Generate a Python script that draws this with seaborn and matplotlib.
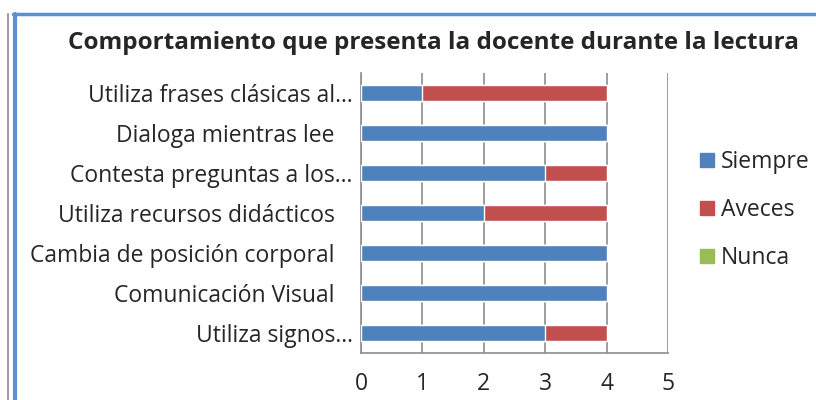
import matplotlib
matplotlib.use("Agg")
import matplotlib.pyplot as plt
import matplotlib.patches as mpatches
from matplotlib.lines import Line2D
import numpy as np
import pandas as pd
import seaborn as sns

# labels carry a trailing space in the source chart
categories = [
    "Utiliza frases clásicas al…",
    "Dialoga mientras lee   ",
    "Contesta preguntas a los…",
    "Utiliza recursos didácticos   ",
    "Cambia de posición corporal   ",
    "Comunicación Visual   ",
    "Utiliza signos…",
]
siempre = [1, 4, 3, 2, 4, 4, 3]
aveces = [3, 0, 1, 2, 0, 0, 1]
nunca = [0, 0, 0, 0, 0, 0, 0]

series_names = ["Siempre", "Aveces", "Nunca"]
colors = ["#4F81BD", "#C0504D", "#9BBB59"]

sns.set_style("white")
plt.rcParams["font.family"] = ["Open Sans", "DejaVu Sans"]

df = pd.DataFrame({"cat": categories, "Siempre": siempre,
                   "Aveces": aveces, "Nunca": nunca})
# cumulative totals for stacking
df["t1"] = df["Siempre"]
df["t2"] = df["t1"] + df["Aveces"]
df["t3"] = df["t2"] + df["Nunca"]

fig = plt.figure(figsize=(8.16, 4.0), dpi=100)
ax = fig.add_axes([0.4424, 0.1175, 0.3762, 0.70])

for col, c in zip(["t3", "t2", "t1"], [colors[2], colors[1], colors[0]]):
    sns.barplot(data=df, x=col, y="cat", color=c, width=0.38,
                saturation=1, ax=ax, zorder=3)

ax.set_xlim(0, 5)
ax.set_xticks(range(6))
ax.grid(axis="x", color="#8c8c8c", linewidth=1.2, zorder=0)
ax.set_xlabel("")
ax.set_ylabel("")
for s in ["top", "right"]:
    ax.spines[s].set_visible(False)
ax.spines["left"].set_color("#8c8c8c")
ax.spines["bottom"].set_color("#8c8c8c")
ax.spines["left"].set_linewidth(1.2)
ax.spines["bottom"].set_linewidth(1.2)

# category ticks sit between categories, like the source
ax.set_yticks(np.arange(-0.5, len(categories), 1), minor=True)
ax.tick_params(axis="y", which="minor", length=6, color="#8c8c8c", width=1.2)
ax.tick_params(axis="y", which="major", length=0, labelsize=16.5, pad=6)
ax.tick_params(axis="x", length=6, color="#8c8c8c", width=1.2,
               labelsize=16.5, pad=8)

fig.text(0.531, 0.893, "Comportamiento que presenta la docente durante la lectura",
         ha="center", va="center", fontsize=17.5, fontweight="bold")

handles = [mpatches.Patch(color=c, label=n) for c, n in zip(colors, series_names)]
fig.legend(handles=handles, loc="center left", bbox_to_anchor=(0.833, 0.475),
           frameon=False, fontsize=16.5, handlelength=0.6, handleheight=0.6,
           handletextpad=0.3, labelspacing=1.05)

# frame around the chart
fig.add_artist(Line2D([0.0165, 1.0], [0.965, 0.965], color="#5B8FD6",
                      linewidth=2.5, transform=fig.transFigure))
fig.add_artist(Line2D([0.0180, 0.0180], [0.0, 0.965], color="#5B8FD6",
                      linewidth=3, transform=fig.transFigure))
fig.add_artist(Line2D([0.0095, 0.0095], [0.0, 0.965], color="#a0a0a0",
                      linewidth=1.5, transform=fig.transFigure))

fig.savefig("out.png", dpi=100)
